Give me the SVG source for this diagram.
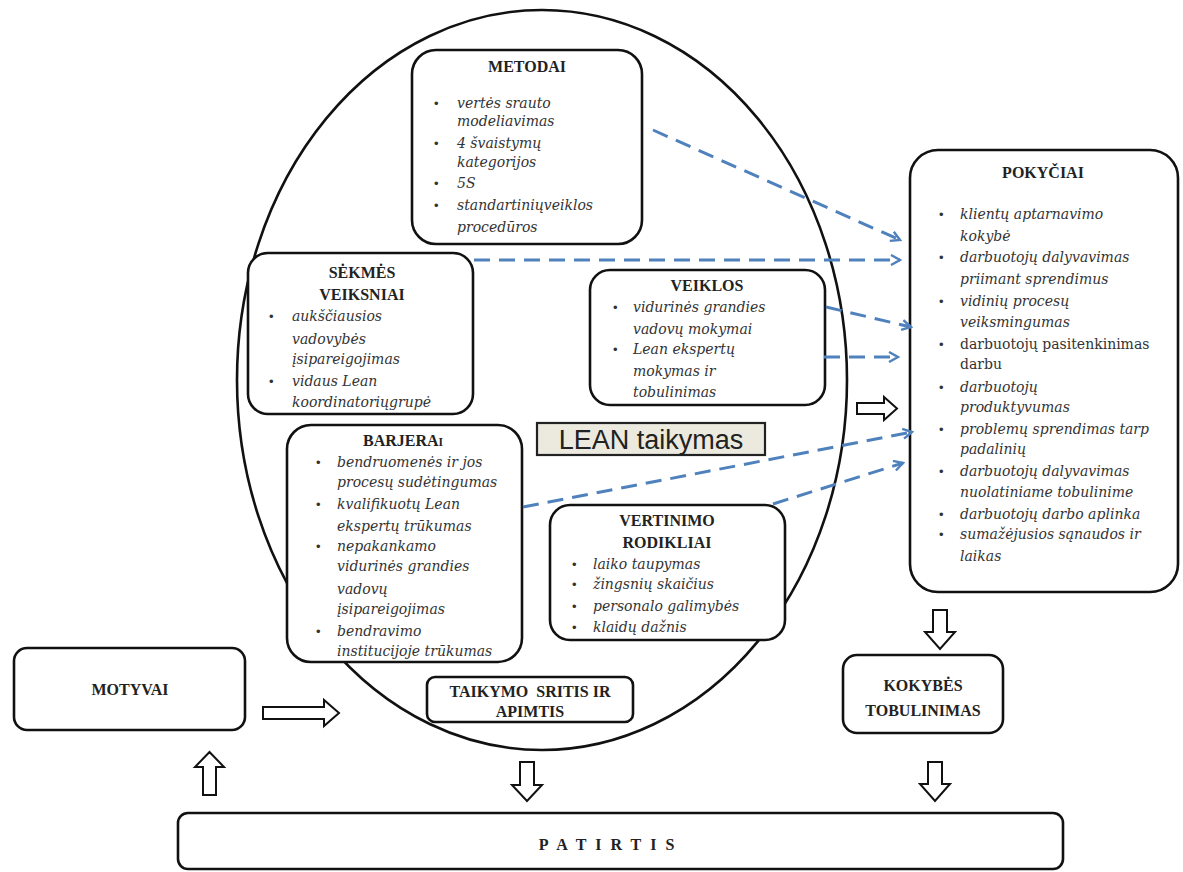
<svg xmlns="http://www.w3.org/2000/svg" width="1183" height="872" viewBox="0 0 1183 872">
  <style>
    .box { fill: #ffffff; stroke: #111111; stroke-width: 2.6; }
    .oval { fill: #ffffff; stroke: #111111; stroke-width: 2.6; }
    .hollow { fill: #ffffff; stroke: #111111; stroke-width: 2; stroke-linejoin: miter; }
    .dash { fill: none; stroke: #4f81bd; stroke-width: 3; stroke-dasharray: 16 9; marker-end: url(#vhead); }
    .ttl { font-family: "Liberation Serif", "Times New Roman", serif; font-weight: bold; font-size: 16px; fill: #222222; text-anchor: middle; }
    .it { font-family: "DejaVu Serif", "Liberation Serif", serif; font-style: italic; font-size: 14px; fill: #333333; }
    .rg { font-family: "DejaVu Serif", "Liberation Serif", serif; font-size: 14px; fill: #333333; }
    .bul { font-family: "Liberation Sans", Arial, sans-serif; font-size: 13px; fill: #333333; }
    .lean { font-family: "Liberation Sans", Arial, sans-serif; font-size: 27px; fill: #222222; }
  </style>
  <defs>
    <marker id="vhead" viewBox="0 0 12 12" refX="10" refY="6" markerWidth="12" markerHeight="12" markerUnits="userSpaceOnUse" orient="auto">
      <path d="M1,1 L10,6 L1,11" fill="none" stroke="#4f81bd" stroke-width="2.4"/>
    </marker>
  </defs>

  <rect width="1183" height="872" fill="#ffffff"/>

  <!-- large oval holding the LEAN application -->
  <g id="lean-oval">
    <ellipse class="oval" cx="542" cy="380" rx="305" ry="370"/>
  </g>

  <g id="metodai">
    <rect class="box" x="412" y="50" width="230" height="194" rx="24"/>
    <text class="ttl" x="527" y="72">METODAI</text>
    <text class="bul" x="434" y="108">•</text>
    <text class="it" x="457" y="108" font-size="14.5">vertės srauto</text>
    <text class="it" x="457" y="126" font-size="14.5">modeliavimas</text>
    <text class="bul" x="434" y="148">•</text>
    <text class="it" x="457" y="148" font-size="14.5">4 švaistymų</text>
    <text class="it" x="457" y="167" font-size="14.5">kategorijos</text>
    <text class="bul" x="434" y="188">•</text>
    <text class="it" x="457" y="188" font-size="14.5">5S</text>
    <text class="bul" x="434" y="210">•</text>
    <text class="it" x="457" y="210" font-size="14.5">standartiniųveiklos</text>
    <text class="it" x="457" y="232" font-size="14.5">procedūros</text>
  </g>

  <g id="sekmes-veiksniai">
    <rect class="box" x="248" y="253" width="225" height="161" rx="20"/>
    <text class="ttl" x="362" y="278">SĖKMĖS</text>
    <text class="ttl" x="362" y="300">VEIKSNIAI</text>
    <text class="bul" x="269" y="321">•</text>
    <text class="it" x="292" y="321">aukščiausios</text>
    <text class="it" x="292" y="344">vadovybės</text>
    <text class="it" x="292" y="364">įsipareigojimas</text>
    <text class="bul" x="269" y="386">•</text>
    <text class="it" x="292" y="386">vidaus Lean</text>
    <text class="it" x="292" y="407">koordinatoriųgrupė</text>
  </g>

  <g id="veiklos">
    <rect class="box" x="590" y="270" width="235" height="135" rx="20"/>
    <text class="ttl" x="707" y="291">VEIKLOS</text>
    <text class="bul" x="613" y="312">•</text>
    <text class="it" x="633" y="312">vidurinės grandies</text>
    <text class="it" x="633" y="334">vadovų mokymai</text>
    <text class="bul" x="613" y="354">•</text>
    <text class="it" x="633" y="354">Lean ekspertų</text>
    <text class="it" x="633" y="376">mokymas ir</text>
    <text class="it" x="633" y="397">tobulinimas</text>
  </g>

  <g id="lean-taikymas">
    <rect x="537" y="423" width="228" height="32" fill="#eceadf" stroke="#222222" stroke-width="2.2"/>
    <text class="lean" x="651" y="449" text-anchor="middle">LEAN taikymas</text>
  </g>

  <g id="barjerai">
    <rect class="box" x="287" y="425" width="235" height="237" rx="24"/>
    <text class="ttl" x="403" y="446">BARJERA<tspan font-size="11.5">I</tspan></text>
    <text class="bul" x="316" y="467">•</text>
    <text class="it" x="337" y="467">bendruomenės ir jos</text>
    <text class="it" x="337" y="487">procesų sudėtingumas</text>
    <text class="bul" x="316" y="509">•</text>
    <text class="it" x="337" y="509">kvalifikuotų Lean</text>
    <text class="it" x="337" y="531">ekspertų trūkumas</text>
    <text class="bul" x="316" y="551">•</text>
    <text class="it" x="337" y="551">nepakankamo</text>
    <text class="it" x="337" y="571">vidurinės grandies</text>
    <text class="it" x="337" y="594">vadovų</text>
    <text class="it" x="337" y="614">įsipareigojimas</text>
    <text class="bul" x="316" y="636">•</text>
    <text class="it" x="337" y="636">bendravimo</text>
    <text class="it" x="337" y="656">institucijoje trūkumas</text>
  </g>

  <g id="vertinimo-rodikliai">
    <rect class="box" x="550" y="505" width="235" height="135" rx="20"/>
    <text class="ttl" x="667" y="526">VERTINIMO</text>
    <text class="ttl" x="667" y="548">RODIKLIAI</text>
    <text class="bul" x="572" y="569">•</text>
    <text class="it" x="593" y="569">laiko taupymas</text>
    <text class="bul" x="572" y="589">•</text>
    <text class="it" x="593" y="589">žingsnių skaičius</text>
    <text class="bul" x="572" y="611">•</text>
    <text class="it" x="593" y="611">personalo galimybės</text>
    <text class="bul" x="572" y="632">•</text>
    <text class="it" x="593" y="632">klaidų dažnis</text>
  </g>

  <g id="taikymo-sritis">
    <rect class="box" x="427" y="677" width="206" height="45" rx="8"/>
    <text class="ttl" x="530" y="697" xml:space="preserve">TAIKYMO  SRITIS IR</text>
    <text class="ttl" x="530" y="717">APIMTIS</text>
  </g>

  <g id="pokyciai">
    <rect class="box" x="910" y="150" width="268" height="442" rx="28"/>
    <text class="ttl" x="1043" y="178">POKYČIAI</text>
    <text class="bul" x="939" y="219">•</text>
    <text class="it" x="960" y="219">klientų aptarnavimo</text>
    <text class="it" x="960" y="241">kokybė</text>
    <text class="bul" x="939" y="262">•</text>
    <text class="it" x="960" y="262">darbuotojų dalyvavimas</text>
    <text class="it" x="960" y="284">priimant sprendimus</text>
    <text class="bul" x="939" y="306">•</text>
    <text class="it" x="960" y="306">vidinių procesų</text>
    <text class="it" x="960" y="327">veiksmingumas</text>
    <text class="bul" x="939" y="349">•</text>
    <text class="rg" x="960" y="349">darbuotojų pasitenkinimas</text>
    <text class="rg" x="960" y="369">darbu</text>
    <text class="bul" x="939" y="392">•</text>
    <text class="it" x="960" y="392">darbuotojų</text>
    <text class="it" x="960" y="412">produktyvumas</text>
    <text class="bul" x="939" y="434">•</text>
    <text class="it" x="960" y="434">problemų sprendimas tarp</text>
    <text class="it" x="960" y="454">padalinių</text>
    <text class="bul" x="939" y="476">•</text>
    <text class="it" x="960" y="476">darbuotojų dalyvavimas</text>
    <text class="it" x="960" y="497">nuolatiniame tobulinime</text>
    <text class="bul" x="939" y="519">•</text>
    <text class="it" x="960" y="519">darbuotojų darbo aplinka</text>
    <text class="bul" x="939" y="539">•</text>
    <text class="it" x="960" y="539">sumažėjusios sąnaudos ir</text>
    <text class="it" x="960" y="561">laikas</text>
  </g>

  <g id="motyvai">
    <rect class="box" x="14" y="648" width="231" height="82" rx="13"/>
    <text class="ttl" x="130" y="695">MOTYVAI</text>
  </g>

  <g id="kokybes-tobulinimas">
    <rect class="box" x="843" y="655" width="160" height="78" rx="14"/>
    <text class="ttl" x="923" y="691">KOKYBĖS</text>
    <text class="ttl" x="923" y="716">TOBULINIMAS</text>
  </g>

  <g id="patirtis">
    <rect class="box" x="178" y="813" width="885" height="56" rx="10"/>
    <text class="ttl" x="611" y="850" font-size="14" letter-spacing="9">PATIRTIS</text>
  </g>

  <!-- connectors: dashed blue links into POKYČIAI and hollow block arrows -->
  <g id="connectors">
    <path class="dash" d="M653,130 L900,240"/>
    <path class="dash" d="M474,260 L900,260"/>
    <path class="dash" d="M826,307 L911,327"/>
    <path class="dash" d="M824,357 L898,357"/>
    <path class="dash" d="M523,507 L912,432"/>
    <path class="dash" d="M773,504 L903,463"/>

    <!-- MOTYVAI into the oval -->
    <path class="hollow" d="M263,707 L324,707 L324,700 L339,713 L324,726 L324,719 L263,719 Z"/>
    <!-- oval into POKYČIAI -->
    <path class="hollow" d="M857,403 L884,403 L884,397 L897,408.5 L884,420 L884,414 L857,414 Z"/>
    <!-- PATIRTIS up to MOTYVAI -->
    <path class="hollow" d="M203,795 L203,767 L195,767 L209.5,752 L224,767 L216,767 L216,795 Z"/>
    <!-- oval down to PATIRTIS -->
    <path class="hollow" d="M520,762 L520,785 L512,785 L527,801 L542,785 L534,785 L534,762 Z"/>
    <!-- POKYČIAI down to KOKYBĖS TOBULINIMAS -->
    <path class="hollow" d="M933,610 L933,632 L925,632 L940,649 L955,632 L947,632 L947,610 Z"/>
    <!-- KOKYBĖS TOBULINIMAS down to PATIRTIS -->
    <path class="hollow" d="M928,762 L928,784 L920,784 L935,801 L950,784 L942,784 L942,762 Z"/>
  </g>
</svg>
